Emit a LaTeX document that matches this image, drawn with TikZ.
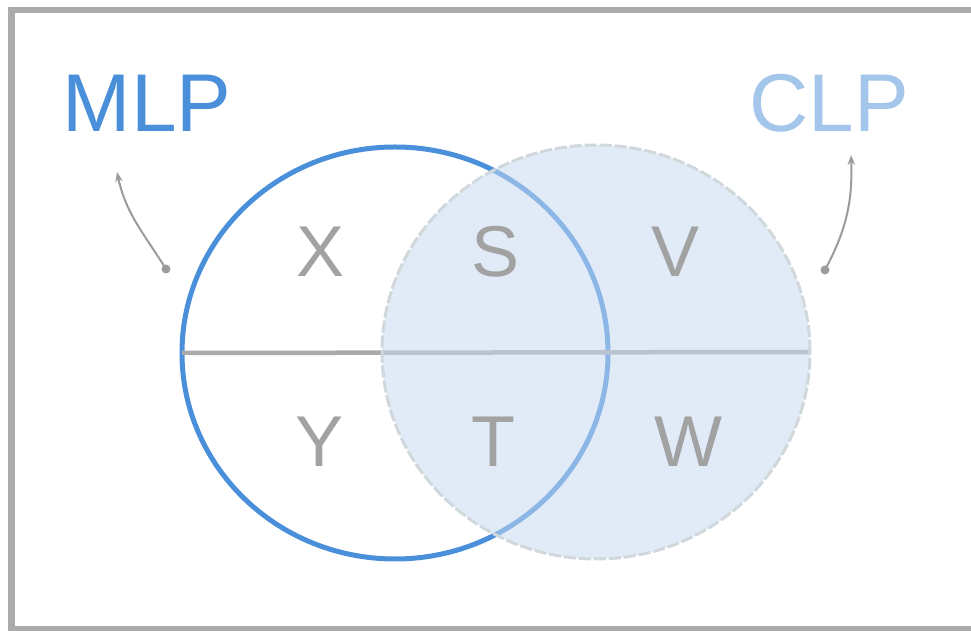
\documentclass[tikz,border=0pt]{standalone}
\usepackage{fontspec}
\setmainfont{Liberation Sans}
\usetikzlibrary{shapes.geometric,arrows.meta}
\definecolor{frameGray}{RGB}{171,171,171}
\definecolor{mlpBlue}{RGB}{74,143,217}
\definecolor{clpBlue}{RGB}{164,198,234}
\definecolor{clpFill}{RGB}{198,218,240}
\definecolor{clpEdge}{RGB}{208,216,220}
\definecolor{letterGray}{RGB}{162,162,162}
\definecolor{lineGray}{RGB}{170,170,170}
\definecolor{arrowGray}{RGB}{155,155,155}
\tikzset{
  setA/.style={ellipse, draw=mlpBlue, line width=5pt, minimum width=426pt, minimum height=412pt, inner sep=0pt, outer sep=0pt},
  setB/.style={ellipse, draw=clpEdge, line width=3pt, dash pattern=on 12pt off 3pt, fill=clpFill, fill opacity=0.53, draw opacity=1, minimum width=428pt, minimum height=414pt, inner sep=0pt, outer sep=0pt},
  region/.style={font=\fontsize{72}{72}\selectfont, text=letterGray, inner sep=0pt, anchor=base},
  setlabel/.style={font=\fontsize{82}{82}\selectfont, inner sep=0pt, anchor=base},
  pointer/.style={draw=arrowGray, line width=2pt, -{Stealth[length=10pt,width=7.5pt]}},
  dot/.style={circle, fill=arrowGray, minimum size=9pt, inner sep=0pt}
}
\begin{document}
\begin{tikzpicture}[x=1pt,y=1pt]
\useasboundingbox (0,0) rectangle (971,631);
\clip (0,0) rectangle (971,631);
% frame
\draw[frameGray, line width=6.5pt] (11.5,2) rectangle (990,621);
% MLP circle
\node[setA] (mlp) at (395,278) {};
% CLP circle drawn over, with the dividing line beneath its fill
\path (596,279) node[minimum width=428pt, minimum height=414pt, ellipse, inner sep=0pt, outer sep=0pt] (clpref) {};
\draw[lineGray, line width=4.5pt] (mlp.west) -- (clpref.east);
\node[setB] (clp) at (596,279) {};
% region letters
\node[region] (x) at (321,354) {X};
\node[region] (s) at (496,354) {S};
\node[region] (v) at (676,354) {V};
\node[region] (y) at (320,164) {Y};
\node[region] (t) at (493,164) {T};
\node[region] (w) at (688,164) {W};
% set labels
\node[setlabel, text=mlpBlue] (mlpl) at (147,499) {MLP};
\node[setlabel, text=clpBlue] (clpl) at (829,499) {CLP};
% pointers
\node[dot] (d1) at (166,362) {};
\node[dot] (d2) at (825,361) {};
\coordinate (t1) at (117,459);
\coordinate (t2) at (851,476);
\draw[pointer] (d1.center) to[out=122, in=-78] (t1);
\draw[pointer] (d2.center) to[out=62, in=-88] (t2);
\end{tikzpicture}
\end{document}
